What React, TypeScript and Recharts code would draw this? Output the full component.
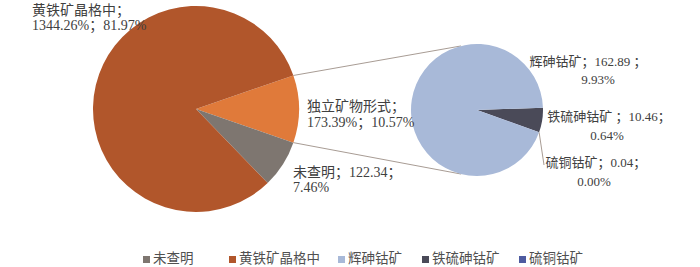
import { Customized, Pie, PieChart, Cell } from "recharts";

// primary pie (clockwise from the split slice)
const mainNames = ["独立矿物形式", "未查明", "黄铁矿晶格中"];
const mainValues = [173.39, 122.34, 1344.26];
const mainShares = ["10.57%", "7.46%", "81.97%"];

// secondary pie: breakdown of 独立矿物形式
const subNames = ["铁硫砷钴矿", "硫铜钴矿", "辉砷钴矿"];
const subValues = [10.46, 0.04, 162.89];
const subShares = ["0.64%", "0.00%", "9.93%"];

const legendNames = ["未查明", "黄铁矿晶格中", "辉砷钴矿", "铁硫砷钴矿", "硫铜钴矿"];

const COLORS: Record<string, string> = {
  独立矿物形式: "#E07A3A",
  未查明: "#7E7670",
  黄铁矿晶格中: "#B1562B",
  铁硫砷钴矿: "#4A4A58",
  硫铜钴矿: "#4E5BA0",
  辉砷钴矿: "#A8B9D8",
};

const FONT = '"Liberation Serif", "Noto Sans CJK SC", serif';
const INK = "#404040";
const RULE = "#A89C94";

const W = 700;
const H = 267;
const MAIN = { cx: 196, cy: 109, r: 103, start: 19 };
const SUB = { cx: 477, cy: 110, r: 66, start: 2 };

const mainData = mainNames.map((name, i) => ({ name, value: mainValues[i], share: mainShares[i] }));
const subData = subNames.map((name, i) => ({ name, value: subValues[i], share: subShares[i] }));

const mainSpan = (mainValues[0] / mainValues.reduce((a, b) => a + b, 0)) * 360;

// label placement relative to each pie's centre
type LabelPos = { lines: (d: any) => string[]; x: number[]; y: number[]; anchor: "start" | "middle"; leader?: [number, number] };
const mainLabels: Record<string, LabelPos> = {
  独立矿物形式: { lines: (d) => [`${d.name}；`, `${d.value}%；${d.share}`], x: [111, 111], y: [2, 18], anchor: "start" },
  未查明: { lines: (d) => [`${d.name}；${d.value}；`, d.share], x: [97, 97], y: [68, 83], anchor: "start" },
  黄铁矿晶格中: { lines: (d) => [`${d.name}；`, `${d.value}%；${d.share}`], x: [-164, -164], y: [-94, -79], anchor: "start" },
};
const subLabels: Record<string, LabelPos> = {
  辉砷钴矿: { lines: (d) => [`${d.name}；${d.value} ；`, d.share], x: [111, 121], y: [-44, -26], anchor: "middle" },
  铁硫砷钴矿: { lines: (d) => [`${d.name} ；${d.value}；`, d.share], x: [132, 130], y: [11, 30], anchor: "middle" },
  硫铜钴矿: { lines: (d) => [`${d.name}；${d.value}；`, d.share], x: [119, 117], y: [57, 76], anchor: "middle", leader: [67, 55] },
};

const makeLabel = (table: Record<string, LabelPos>, size: number) => (p: any) => {
  const pos = table[p.name];
  if (!pos) return null;
  const lines = pos.lines(p.payload ?? p);
  const RAD = Math.PI / 180;
  return (
    <g key={p.name}>
      {pos.leader && (
        <line
          x1={p.cx + p.outerRadius * Math.cos(-p.midAngle * RAD)}
          y1={p.cy + p.outerRadius * Math.sin(-p.midAngle * RAD)}
          x2={p.cx + pos.leader[0]}
          y2={p.cy + pos.leader[1]}
          stroke={RULE}
          strokeWidth={1}
        />
      )}
      {lines.map((t, i) => (
        <text
          key={i}
          x={p.cx + pos.x[i]}
          y={p.cy + pos.y[i]}
          textAnchor={pos.anchor}
          fill={INK}
          fontSize={size}
          fontFamily={FONT}
        >
          {t}
        </text>
      ))}
    </g>
  );
};

function Connectors() {
  const RAD = Math.PI / 180;
  const a1 = MAIN.start * RAD;
  const a2 = (MAIN.start - mainSpan) * RAD;
  const pt = (c: typeof MAIN, ang: number) => [c.cx + c.r * Math.cos(ang), c.cy - c.r * Math.sin(ang)];
  const [x1, y1] = pt(MAIN, a1);
  const [x2, y2] = pt(MAIN, a2);
  const [x3, y3] = pt(SUB, 104 * RAD);
  const [x4, y4] = pt(SUB, -104 * RAD);
  return (
    <g>
      <line x1={x1} y1={y1} x2={x3} y2={y3} stroke={RULE} strokeWidth={1} />
      <line x1={x2} y1={y2} x2={x4} y2={y4} stroke={RULE} strokeWidth={1} />
    </g>
  );
}

const legendLeft = [143, 229, 338, 422, 519];

export default function App() {
  return (
    <div style={{ position: "absolute", left: 0, top: 0, width: W, height: H, background: "#fff", overflow: "hidden" }}>
      <PieChart width={W} height={H} margin={{ top: 0, right: 0, bottom: 0, left: 0 }}>
        <Pie
          data={mainData}
          dataKey="value"
          nameKey="name"
          cx={MAIN.cx}
          cy={MAIN.cy}
          outerRadius={MAIN.r}
          startAngle={MAIN.start}
          endAngle={MAIN.start - 360}
          stroke="none"
          label={makeLabel(mainLabels, 14)}
          labelLine={false}
          isAnimationActive={false}
        >
          {mainData.map((d) => (
            <Cell key={d.name} fill={COLORS[d.name]} />
          ))}
        </Pie>
        <Pie
          data={subData}
          dataKey="value"
          nameKey="name"
          cx={SUB.cx}
          cy={SUB.cy}
          outerRadius={SUB.r}
          startAngle={SUB.start}
          endAngle={SUB.start - 360}
          stroke="none"
          label={makeLabel(subLabels, 13)}
          labelLine={false}
          isAnimationActive={false}
        >
          {subData.map((d) => (
            <Cell key={d.name} fill={COLORS[d.name]} />
          ))}
        </Pie>
        <Customized component={Connectors} />
      </PieChart>
      {legendNames.map((name, i) => (
        <div
          key={name}
          style={{
            position: "absolute",
            left: legendLeft[i],
            top: 252,
            height: 14,
            lineHeight: "14px",
            display: "flex",
            alignItems: "center",
            fontFamily: FONT,
            fontSize: 13.5,
            color: "#505050",
            whiteSpace: "nowrap",
          }}
        >
          <span style={{ width: 7, height: 7, background: COLORS[name], marginRight: 3 }} />
          {name}
        </div>
      ))}
    </div>
  );
}
